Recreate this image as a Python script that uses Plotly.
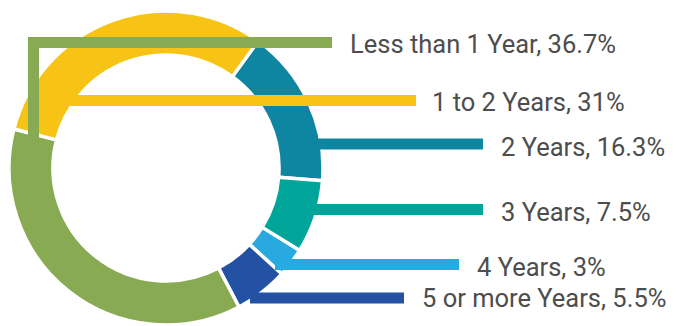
import plotly.graph_objects as go

W, H = 678, 326
OFF = 8  # page body margin offset

# Data (clockwise order starting at the 2 Years slice)
categories = ["2 Years", "3 Years", "4 Years", "5 or more Years", "Less than 1 Year", "1 to 2 Years"]
values = [16.3, 7.5, 3, 5.5, 36.7, 31]
colors = ["#0E85A1", "#00A59A", "#28AAE1", "#2351A4", "#88AA52", "#F7C416"]

# Label layout (pixel positions of leader lines and texts)
label_layout = {
    "Less than 1 Year": dict(tx=348, ty=44, lx0=28, lx1=332, ly=42.5),
    "1 to 2 Years": dict(tx=430, ty=102, lx0=45, lx1=416, ly=100.5),
    "2 Years": dict(tx=499, ty=147, lx0=300, lx1=483, ly=144),
    "3 Years": dict(tx=499, ty=212, lx0=290, lx1=483, ly=209.5),
    "4 Years": dict(tx=475, ty=267, lx0=275, lx1=459, ly=264.5),
    "5 or more Years": dict(tx=420, ty=298, lx0=250, lx1=404, ly=298),
}

cx, cy, R = 166, 168, 157


def px(x):
    return (x - OFF) / W


def py(y):
    return 1 - (y - OFF) / H


fig = go.Figure(go.Pie(
    labels=categories,
    values=values,
    sort=False,
    direction="clockwise",
    rotation=36,
    hole=0.72,
    marker=dict(colors=colors, line=dict(color="white", width=3.5)),
    textinfo="none",
    hoverinfo="label+percent",
    showlegend=False,
    domain=dict(x=[px(cx - R), px(cx + R)], y=[py(cy + R), py(cy - R)]),
))

shapes = []
annotations = []
for cat, val, col in zip(categories, values, colors):
    L = label_layout[cat]
    shapes.append(dict(type="line", xref="paper", yref="paper",
                       x0=px(L["lx0"]), x1=px(L["lx1"]), y0=py(L["ly"]), y1=py(L["ly"]),
                       line=dict(color=col, width=11)))
    annotations.append(dict(xref="paper", yref="paper", x=px(L["tx"]), y=py(L["ty"]),
                            xanchor="left", yanchor="middle", showarrow=False,
                            text=f"{cat}, {val:g}%",
                            font=dict(family="Roboto", size=25.5, color="#4D4D4D")))

# vertical part of the green leader line
gL = label_layout["Less than 1 Year"]
shapes.append(dict(type="line", xref="paper", yref="paper",
                   x0=px(33.5), x1=px(33.5), y0=py(gL["ly"] - 5.5), y1=py(140),
                   line=dict(color=colors[4], width=11)))

fig.update_layout(
    width=W, height=H,
    margin=dict(l=0, r=0, t=0, b=0),
    paper_bgcolor="white", plot_bgcolor="white",
    shapes=shapes, annotations=annotations,
)

fig.write_html("out.html")
